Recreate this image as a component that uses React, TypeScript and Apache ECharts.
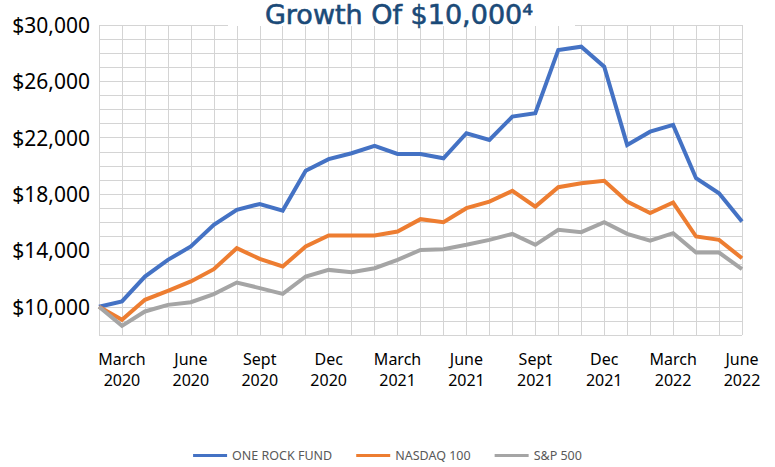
import React, { useEffect, useRef } from "react";
import * as echarts from "echarts";

const months = [
  "Feb 2020", "March 2020", "April 2020", "May 2020", "June 2020", "July 2020", "Aug 2020",
  "Sept 2020", "Oct 2020", "Nov 2020", "Dec 2020", "Jan 2021", "Feb 2021", "March 2021",
  "April 2021", "May 2021", "June 2021", "July 2021", "Aug 2021", "Sept 2021", "Oct 2021",
  "Nov 2021", "Dec 2021", "Jan 2022", "Feb 2022", "March 2022", "April 2022", "May 2022",
  "June 2022",
];

const oneRockFund = [
  10000, 10380, 12150, 13330, 14280, 15820, 16880, 17300, 16830, 19650, 20480, 20900, 21420,
  20850, 20850, 20540, 22320, 21840, 23500, 23740, 28230, 28460, 27040, 21490, 22430, 22910,
  19130, 18060, 16050,
];

const nasdaq100 = [
  10000, 9080, 10500, 11130, 11800, 12670, 14160, 13400, 12860, 14280, 15060, 15060, 15060,
  15340, 16220, 16010, 17000, 17470, 18230, 17110, 18490, 18770, 18940, 17470, 16650, 17400,
  14990, 14750, 13450,
];

const sp500 = [
  10000, 8650, 9670, 10140, 10330, 10900, 11720, 11330, 10920, 12150, 12620, 12460, 12740,
  13330, 14040, 14090, 14400, 14750, 15180, 14400, 15460, 15300, 16010, 15180, 14700, 15230,
  13850, 13850, 12670,
];

const yLabelValues = [10000, 14000, 18000, 22000, 26000, 30000];

const seriesNames = ["ONE ROCK FUND", "NASDAQ 100", "S&P 500"];
const seriesColors = ["#4472C4", "#ED7D31", "#A5A5A5"];

export default function App() {
  const ref = useRef<HTMLDivElement>(null);

  useEffect(() => {
    if (!ref.current) return;
    const chart = echarts.init(ref.current, undefined, { renderer: "svg" });
    const datasets = [oneRockFund, nasdaq100, sp500];
    chart.setOption({
      animation: false,
      backgroundColor: "#ffffff",
      grid: { left: 99, right: 33, top: 25, bottom: 132, containLabel: false },
      legend: {
        data: seriesNames,
        top: 444,
        left: "center",
        icon: "rect",
        itemWidth: 34,
        itemHeight: 3,
        itemGap: 24,
        textStyle: { fontFamily: "Noto Sans", fontSize: 12.5, color: "#595959" },
      },
      xAxis: {
        type: "category",
        boundaryGap: false,
        data: months,
        axisLine: { show: false },
        axisTick: { show: false },
        splitLine: { show: true, interval: 0, lineStyle: { color: "#D4D4D4", width: 1 } },
        axisLabel: {
          interval: (i: number) => (i - 1) % 3 === 0,
          formatter: (v: string) => v.replace(" ", "\n"),
          fontFamily: "Noto Sans",
          fontSize: 16,
          lineHeight: 21,
          color: "#000000",
          margin: 13,
        },
      },
      yAxis: {
        type: "value",
        min: 8000,
        max: 30000,
        interval: 1000,
        axisLine: { show: false },
        axisTick: { show: false },
        splitLine: { show: true, lineStyle: { color: "#D4D4D4", width: 1 } },
        axisLabel: {
          formatter: (v: number) =>
            yLabelValues.includes(v) ? "$" + v.toLocaleString("en-US") : "",
          fontFamily: "Noto Sans",
          fontSize: 21,
          color: "#000000",
          margin: 9,
        },
      },
      series: datasets.map((d, i) => ({
        name: seriesNames[i],
        type: "line",
        data: d,
        showSymbol: false,
        symbol: "none",
        color: seriesColors[i],
        lineStyle: { width: 4, color: seriesColors[i], join: "miter" },
      })),
      graphic: [
        {
          type: "rect",
          shape: { x: 228, y: 0, width: 347, height: 26 },
          style: { fill: "#ffffff" },
          z: 100,
        },
        {
          type: "text",
          x: 399,
          y: 14,
          z: 101,
          style: {
            text: "Growth Of $10,000⁴",
            fill: "#1B4A78",
            stroke: "#1B4A78",
            lineWidth: 0.6,
            font: "27px 'DejaVu Sans'",
            textAlign: "center",
            textVerticalAlign: "middle",
          },
        },
      ],
    });
    return () => chart.dispose();
  }, []);

  return (
    <div
      ref={ref}
      style={{ position: "fixed", left: 0, top: 0, width: 775, height: 467 }}
    />
  );
}
